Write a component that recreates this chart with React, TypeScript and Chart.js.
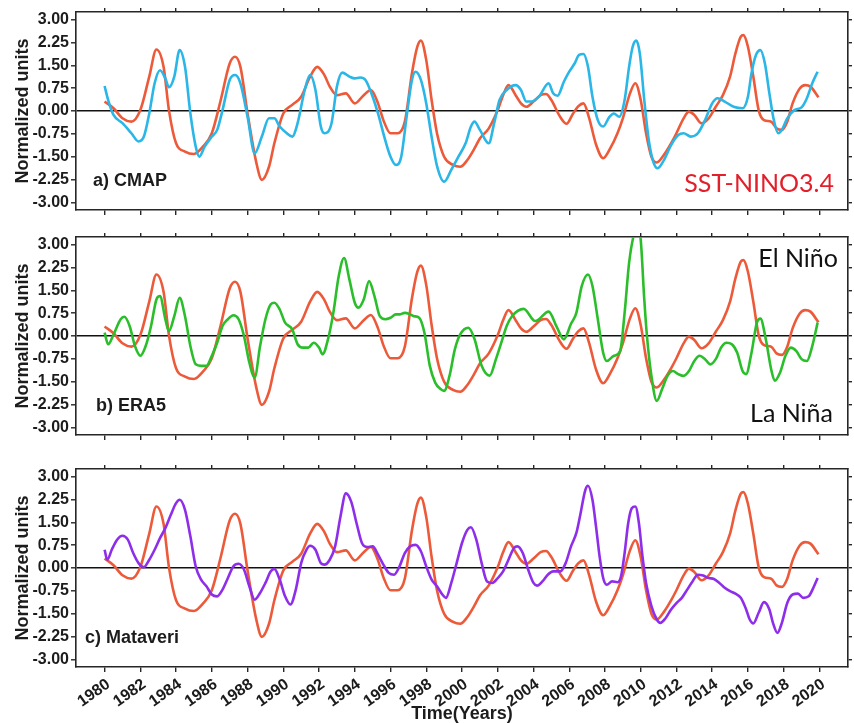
import React, { useEffect, useRef } from "react";
import { Chart, registerables } from "chart.js";

Chart.register(...registerables);

// ---------- tick labels ----------
const yearTicks = [1980, 1982, 1984, 1986, 1988, 1990, 1992, 1994, 1996, 1998, 2000, 2002, 2004, 2006, 2008, 2010, 2012, 2014, 2016, 2018, 2020];
const valueTicks = [-3, -2.25, -1.5, -0.75, 0, 0.75, 1.5, 2.25, 3];

// ---------- SST-NINO3.4 (red, same in every panel) ----------
const ninoYears = [1980.0, 1980.5, 1981.0, 1981.5, 1982.0, 1982.5, 1982.9, 1983.3, 1983.6, 1984.0, 1984.5, 1985.0, 1985.5, 1986.0, 1986.5, 1987.0, 1987.3, 1987.6, 1988.0, 1988.5, 1988.8, 1989.2, 1989.5, 1990.0, 1990.5, 1991.0, 1991.5, 1991.9, 1992.3, 1992.6, 1993.0, 1993.5, 1994.0, 1994.5, 1994.9, 1995.3, 1995.6, 1996.0, 1996.4, 1996.8, 1997.2, 1997.5, 1997.7, 1998.0, 1998.3, 1998.6, 1999.0, 1999.5, 1999.9, 2000.3, 2000.7, 2001.0, 2001.5, 2002.0, 2002.3, 2002.6, 2003.0, 2003.3, 2003.6, 2004.0, 2004.4, 2004.7, 2005.0, 2005.5, 2005.85, 2006.2, 2006.5, 2006.8, 2007.1, 2007.5, 2007.9, 2008.3, 2008.7, 2009.0, 2009.4, 2009.7, 2010.0, 2010.3, 2010.6, 2010.9, 2011.3, 2011.7, 2012.0, 2012.4, 2012.7, 2013.0, 2013.4, 2013.8, 2014.2, 2014.6, 2015.0, 2015.3, 2015.6, 2015.75, 2016.0, 2016.3, 2016.6, 2016.9, 2017.3, 2017.6, 2017.9, 2018.2, 2018.5, 2018.9, 2019.2, 2019.5, 2019.95];
const ninoValues = [0.31, 0.09, -0.24, -0.35, 0.03, 1.13, 2.02, 1.45, 0.03, -1.06, -1.33, -1.41, -1.17, -0.73, 0.36, 1.56, 1.78, 1.45, -0.08, -1.72, -2.26, -1.83, -1.06, -0.08, 0.2, 0.47, 1.13, 1.45, 1.18, 0.8, 0.52, 0.58, 0.25, 0.52, 0.69, 0.25, -0.3, -0.73, -0.73, -0.35, 1.24, 2.11, 2.31, 1.67, 0.36, -0.73, -1.5, -1.77, -1.83, -1.61, -1.23, -0.9, -0.57, 0.03, 0.52, 0.85, 0.52, 0.25, 0.14, 0.31, 0.52, 0.56, 0.36, -0.2, -0.42, -0.1, 0.15, 0.25, -0.2, -1.1, -1.55, -1.22, -0.73, -0.24, 0.58, 0.91, 0.36, -0.73, -1.5, -1.69, -1.44, -1.06, -0.73, -0.24, -0.02, -0.13, -0.4, -0.24, 0.14, 0.52, 1.13, 1.89, 2.44, 2.49, 2.11, 1.13, 0.03, -0.3, -0.35, -0.57, -0.62, -0.35, 0.25, 0.74, 0.85, 0.8, 0.45];

// ---------- a) CMAP (cyan) ----------
const cmapYears = [1980.0, 1980.2, 1980.5, 1981.0, 1981.5, 1981.9, 1982.2, 1982.5, 1982.8, 1983.1, 1983.4, 1983.6, 1983.9, 1984.2, 1984.5, 1984.8, 1985.1, 1985.3, 1985.6, 1986.0, 1986.3, 1986.6, 1987.0, 1987.3, 1987.6, 1988.0, 1988.4, 1988.8, 1989.2, 1989.5, 1989.8, 1990.2, 1990.5, 1990.8, 1991.2, 1991.5, 1991.8, 1992.1, 1992.3, 1992.7, 1993.0, 1993.3, 1993.7, 1994.0, 1994.3, 1994.6, 1995.0, 1995.3, 1995.7, 1996.0, 1996.3, 1996.6, 1996.9, 1997.2, 1997.4, 1997.7, 1998.0, 1998.3, 1998.6, 1999.0, 1999.4, 1999.8, 2000.2, 2000.5, 2000.7, 2001.0, 2001.5, 2001.8, 2002.1, 2002.5, 2003.0, 2003.3, 2003.6, 2003.9, 2004.3, 2004.85, 2005.1, 2005.35, 2005.7, 2006.0, 2006.3, 2006.55, 2006.8, 2007.05, 2007.3, 2007.6, 2007.9, 2008.25, 2008.5, 2008.8, 2009.1, 2009.35, 2009.55, 2009.75, 2009.95, 2010.2, 2010.45, 2010.7, 2010.95, 2011.3, 2011.7, 2012.1, 2012.4, 2012.8, 2013.2, 2013.6, 2014.0, 2014.3, 2014.7, 2015.2, 2015.7, 2016.0, 2016.2, 2016.45, 2016.7, 2016.95, 2017.2, 2017.45, 2017.7, 2017.9, 2018.2, 2018.6, 2019.0, 2019.3, 2019.6, 2019.9];
const cmapValues = [0.82, 0.36, -0.13, -0.4, -0.73, -1.0, -0.84, -0.08, 0.91, 1.34, 1.07, 0.78, 1.13, 2.0, 1.45, -0.08, -1.17, -1.5, -1.17, -0.84, -0.62, 0.03, 1.02, 1.18, 0.91, -0.19, -1.39, -0.84, -0.24, -0.24, -0.51, -0.73, -0.84, -0.4, 0.69, 1.18, 0.69, -0.51, -0.73, -0.4, 0.8, 1.26, 1.13, 1.07, 1.1, 1.02, 0.47, -0.08, -0.95, -1.5, -1.77, -1.5, -0.19, 1.02, 1.29, 1.02, 0.25, -0.85, -1.8, -2.32, -1.93, -1.5, -1.06, -0.51, -0.35, -0.62, -1.06, -0.4, 0.36, 0.69, 0.85, 0.69, 0.31, 0.31, 0.47, 0.91, 0.58, 0.5, 0.96, 1.29, 1.56, 1.84, 1.87, 1.45, 0.47, -0.3, -0.51, -0.19, -0.08, -0.19, 0.36, 1.45, 2.11, 2.31, 1.89, 0.36, -0.95, -1.66, -1.88, -1.61, -1.12, -0.79, -0.73, -0.84, -0.73, -0.3, 0.25, 0.42, 0.31, 0.14, 0.09, 0.47, 1.24, 1.84, 2.0, 1.56, 0.58, -0.3, -0.73, -0.62, -0.24, 0.03, 0.12, 0.42, 0.91, 1.29];

// ---------- b) ERA5 (green) ----------
const era5Years = [1980.0, 1980.2, 1980.5, 1980.9, 1981.1, 1981.4, 1981.7, 1982.0, 1982.3, 1982.6, 1982.9, 1983.1, 1983.4, 1983.6, 1983.9, 1984.2, 1984.5, 1984.8, 1985.1, 1985.4, 1985.7, 1986.0, 1986.3, 1986.6, 1986.9, 1987.2, 1987.5, 1987.8, 1988.1, 1988.4, 1988.7, 1989.0, 1989.3, 1989.5, 1989.8, 1990.1, 1990.5, 1990.8, 1991.1, 1991.4, 1991.7, 1992.0, 1992.2, 1992.5, 1992.8, 1993.1, 1993.4, 1993.7, 1994.0, 1994.2, 1994.5, 1994.8, 1995.1, 1995.4, 1995.7, 1996.0, 1996.3, 1996.5, 1996.8, 1997.1, 1997.3, 1997.6, 1997.9, 1998.2, 1998.5, 1998.8, 1999.0, 1999.3, 1999.6, 1999.9, 2000.35, 2000.7, 2001.1, 2001.55, 2001.9, 2002.2, 2002.5, 2002.8, 2003.45, 2004.1, 2004.85, 2005.3, 2005.7, 2006.1, 2006.4, 2006.7, 2007.05, 2007.3, 2007.6, 2007.9, 2008.1, 2008.5, 2008.85, 2009.1, 2009.35, 2009.6, 2009.8, 2010.0, 2010.2, 2010.35, 2010.6, 2010.9, 2011.2, 2011.5, 2011.8, 2012.1, 2012.4, 2012.7, 2013.0, 2013.3, 2013.6, 2013.9, 2014.2, 2014.5, 2014.8, 2015.1, 2015.4, 2015.7, 2015.9, 2016.2, 2016.5, 2016.7, 2017.0, 2017.3, 2017.5, 2017.8, 2018.1, 2018.4, 2018.7, 2019.0, 2019.3, 2019.6, 2019.9];
const era5Values = [0.11, -0.27, 0.05, 0.55, 0.63, 0.33, -0.33, -0.65, -0.33, 0.33, 1.2, 1.31, 0.55, 0.16, 0.65, 1.25, 0.65, -0.33, -0.93, -0.98, -0.98, -0.65, -0.22, 0.33, 0.55, 0.68, 0.55, 0.0, -0.87, -1.36, -0.33, 0.55, 1.04, 1.09, 0.87, 0.44, 0.22, -0.27, -0.38, -0.38, -0.22, -0.38, -0.6, -0.11, 0.76, 1.96, 2.56, 1.85, 1.09, 0.93, 1.2, 1.8, 1.31, 0.65, 0.55, 0.6, 0.71, 0.71, 0.76, 0.71, 0.65, 0.6, 0.1, -0.98, -1.53, -1.74, -1.8, -1.31, -0.44, 0.05, 0.27, -0.1, -0.98, -1.3, -0.76, -0.22, 0.33, 0.65, 0.89, 0.49, 0.8, 0.3, -0.11, 0.4, 0.76, 1.64, 2.02, 1.64, 0.55, -0.55, -0.82, -0.65, -0.49, 0.76, 2.4, 3.29, 3.6, 3.16, 1.2, 0.0, -1.31, -2.13, -1.74, -1.31, -1.15, -1.25, -1.31, -1.15, -0.82, -0.65, -0.76, -0.93, -0.76, -0.38, -0.22, -0.27, -0.55, -1.15, -1.25, -0.55, 0.44, 0.57, -0.11, -1.09, -1.47, -1.2, -0.65, -0.38, -0.49, -0.76, -0.82, -0.33, 0.44];

// ---------- c) Mataveri (purple) ----------
const mataveriYears = [1980.0, 1980.15, 1980.4, 1980.7, 1981.0, 1981.3, 1981.6, 1981.9, 1982.2, 1982.5, 1982.8, 1983.1, 1983.4, 1983.7, 1984.0, 1984.2, 1984.5, 1984.8, 1985.1, 1985.4, 1985.7, 1986.0, 1986.3, 1986.6, 1986.9, 1987.2, 1987.5, 1987.8, 1988.1, 1988.4, 1988.7, 1989.0, 1989.3, 1989.5, 1989.8, 1990.1, 1990.4, 1990.7, 1991.0, 1991.3, 1991.5, 1991.8, 1992.1, 1992.3, 1992.6, 1992.9, 1993.2, 1993.5, 1993.8, 1994.1, 1994.4, 1994.7, 1995.0, 1995.3, 1995.6, 1995.9, 1996.2, 1996.5, 1996.8, 1997.1, 1997.4, 1997.7, 1998.0, 1998.3, 1998.6, 1998.9, 1999.1, 1999.4, 1999.7, 2000.0, 2000.3, 2000.5, 2000.8, 2001.1, 2001.4, 2001.7, 2002.0, 2002.3, 2002.6, 2002.9, 2003.1, 2003.4, 2003.7, 2004.0, 2004.2, 2004.5, 2004.8, 2005.1, 2005.5, 2005.8, 2006.1, 2006.4, 2006.6, 2006.9, 2007.05, 2007.3, 2007.5, 2007.7, 2007.9, 2008.1, 2008.4, 2008.7, 2008.9, 2009.1, 2009.3, 2009.5, 2009.7, 2009.9, 2010.1, 2010.3, 2010.6, 2010.9, 2011.1, 2011.4, 2011.7, 2012.0, 2012.3, 2012.6, 2012.9, 2013.2, 2013.5, 2013.8, 2014.1, 2014.4, 2014.7, 2015.0, 2015.3, 2015.6, 2015.9, 2016.1, 2016.3, 2016.6, 2016.9, 2017.2, 2017.4, 2017.65, 2017.9, 2018.2, 2018.5, 2018.8, 2019.1, 2019.4, 2019.7, 2019.9];
const mataveriValues = [0.6, 0.27, 0.6, 0.93, 1.06, 0.93, 0.49, 0.16, 0.03, 0.27, 0.6, 0.98, 1.31, 1.74, 2.13, 2.24, 1.91, 1.04, 0.05, -0.38, -0.6, -0.87, -0.93, -0.71, -0.33, 0.05, 0.14, -0.05, -0.6, -1.04, -0.82, -0.49, -0.11, -0.03, -0.38, -0.93, -1.2, -0.71, 0.16, 0.6, 0.73, 0.6, 0.16, 0.11, 0.27, 0.71, 1.69, 2.45, 2.18, 1.47, 0.82, 0.69, 0.71, 0.44, 0.11, -0.16, -0.22, 0.05, 0.49, 0.71, 0.76, 0.55, 0.05, -0.38, -0.6, -0.87, -0.98, -0.49, 0.16, 0.82, 1.25, 1.34, 0.93, 0.16, -0.44, -0.49, -0.33, -0.11, 0.27, 0.65, 0.71, 0.49, -0.05, -0.49, -0.58, -0.44, -0.22, -0.11, -0.11, 0.16, 0.71, 1.15, 1.69, 2.56, 2.7, 2.24, 1.36, 0.38, -0.33, -0.55, -0.44, -0.47, -0.27, 0.49, 1.47, 1.96, 2.02, 1.47, 0.38, -0.49, -1.25, -1.69, -1.8, -1.64, -1.36, -1.15, -0.98, -0.71, -0.44, -0.22, -0.25, -0.33, -0.36, -0.49, -0.65, -0.76, -0.84, -0.98, -1.36, -1.69, -1.82, -1.47, -1.12, -1.36, -1.8, -2.13, -1.8, -1.15, -0.87, -0.84, -0.98, -0.93, -0.6, -0.33];

// ---------- styling ----------
const RED = "#EC5A3A";
const CYAN = "#2AB6E6";
const GREEN = "#2BBE2B";
const PURPLE = "#8E2EEA";
const AXIS = "#262626";
const TEXT = "#1c1c1c";
const SANS = "'Liberation Sans', Arial, sans-serif";
const X_MIN = 1978.4;
const X_MAX = 2021.6;
const Y_MIN = -3.25;
const Y_MAX = 3.25;

type TextItem = { text: string; x: number; y: number; font: string; color: string; align: CanvasTextAlign };

function points(xs: number[], ys: number[]) {
  return xs.map((x, i) => ({ x, y: ys[i] }));
}

function Panel(props: {
  top: number;
  height: number;
  years: number[];
  values: number[];
  color: string;
  showX: boolean;
  texts: TextItem[];
}) {
  const ref = useRef<HTMLCanvasElement | null>(null);
  useEffect(() => {
    if (!ref.current) return;
    const bottomH = props.height - 210;
    const setYearTicks = (s: any) => {
      s.ticks = yearTicks.map((v) => ({ value: v }));
    };
    const setValueTicks = (s: any) => {
      s.ticks = valueTicks.map((v) => ({ value: v }));
    };
    const textPlugin = {
      id: "panelTexts",
      afterDraw(chart: any) {
        const ctx = chart.ctx;
        props.texts.forEach((t) => {
          ctx.save();
          ctx.font = t.font;
          ctx.fillStyle = t.color;
          ctx.textAlign = t.align;
          ctx.textBaseline = "middle";
          ctx.fillText(t.text, t.x, t.y);
          ctx.restore();
        });
      },
    };
    const line = (data: any, color: string) => ({
      data,
      borderColor: color,
      borderWidth: 2.6,
      pointRadius: 0,
      fill: false,
      cubicInterpolationMode: "monotone",
    });
    const chart = new Chart(ref.current, {
      type: "line",
      data: {
        datasets: [
          line(points(props.years, props.values), props.color),
          line(points(ninoYears, ninoValues), RED),
        ] as any,
      },
      options: {
        animation: false,
        responsive: false,
        events: [],
        layout: { padding: 0 },
        plugins: { legend: { display: false }, tooltip: { enabled: false } },
        scales: {
          x: {
            type: "linear",
            axis: "x",
            position: "bottom",
            min: X_MIN,
            max: X_MAX,
            afterBuildTicks: setYearTicks,
            afterFit: (s: any) => {
              s.height = bottomH;
            },
            grid: { drawOnChartArea: false, drawTicks: true, tickLength: 5, tickColor: AXIS, lineWidth: 1.4 },
            border: { display: true, color: AXIS, width: 1.6 },
            ticks: {
              display: props.showX,
              autoSkip: false,
              minRotation: 35,
              maxRotation: 35,
              padding: 3,
              labelOffset: 4,
              color: TEXT,
              font: { family: SANS, size: 16, weight: "bold" },
              callback: (v: any) => String(v),
            },
            title: {
              display: props.showX,
              text: "Time(Years)",
              color: TEXT,
              font: { family: SANS, size: 18, weight: "bold", lineHeight: 1 },
              padding: { top: 0, bottom: 0 },
            },
          },
          xTop: {
            type: "linear",
            axis: "x",
            position: "top",
            min: X_MIN,
            max: X_MAX,
            afterBuildTicks: setYearTicks,
            afterFit: (s: any) => {
              s.height = 12;
            },
            grid: { drawOnChartArea: false, drawTicks: true, tickLength: 4, tickColor: AXIS, lineWidth: 1.4 },
            border: { display: true, color: AXIS, width: 1.6 },
            ticks: { display: false },
          },
          y: {
            type: "linear",
            axis: "y",
            position: "left",
            min: Y_MIN,
            max: Y_MAX,
            afterBuildTicks: setValueTicks,
            afterFit: (s: any) => {
              s.width = 76;
            },
            grid: {
              drawOnChartArea: true,
              drawTicks: true,
              tickLength: 5,
              tickColor: AXIS,
              tickWidth: 1.4,
              lineWidth: 1.6,
              color: (c: any) => (c.tick && c.tick.value === 0 ? "#111111" : "rgba(0,0,0,0)"),
            },
            border: { display: true, color: AXIS, width: 1.6 },
            ticks: {
              padding: 2,
              color: TEXT,
              font: { family: SANS, size: 16, weight: "bold" },
              callback: (v: any) => Number(v).toFixed(2),
            },
            title: {
              display: true,
              text: "Normalized units",
              color: TEXT,
              font: { family: SANS, size: 18, weight: "bold" },
              padding: { top: 12, bottom: 0 },
            },
          },
          yRight: {
            type: "linear",
            axis: "y",
            position: "right",
            min: Y_MIN,
            max: Y_MAX,
            afterBuildTicks: setValueTicks,
            afterFit: (s: any) => {
              s.width = 6;
            },
            grid: { drawOnChartArea: false, drawTicks: true, tickLength: 4, tickColor: AXIS, lineWidth: 1.4 },
            border: { display: true, color: AXIS, width: 1.6 },
            ticks: { display: false },
          },
        },
      } as any,
      plugins: [textPlugin],
    });
    return () => chart.destroy();
  }, []);
  return (
    <canvas
      ref={ref}
      width={854}
      height={props.height}
      style={{ position: "absolute", left: 0, top: props.top, width: 854, height: props.height, display: "block" }}
    />
  );
}

const BOLD18 = `bold 18px ${SANS}`;
const CAL = "25px Lato, 'Open Sans', sans-serif";

export default function App() {
  return (
    <div style={{ position: "fixed", left: 0, top: 0, width: 854, height: 723, background: "#ffffff", overflow: "hidden" }}>
      <Panel
        top={0}
        height={225}
        years={cmapYears}
        values={cmapValues}
        color={CYAN}
        showX={false}
        texts={[
          { text: "a) CMAP", x: 93, y: 181, font: BOLD18, color: TEXT, align: "left" },
          { text: "SST-NINO3.4", x: 834, y: 184, font: CAL, color: "#E2202B", align: "right" },
        ]}
      />
      <Panel
        top={225}
        height={225}
        years={era5Years}
        values={era5Values}
        color={GREEN}
        showX={false}
        texts={[
          { text: "b) ERA5", x: 96, y: 181, font: BOLD18, color: TEXT, align: "left" },
          { text: "El Niño", x: 838, y: 34, font: CAL, color: "#111111", align: "right" },
          { text: "La Niña", x: 833, y: 189, font: CAL, color: "#111111", align: "right" },
        ]}
      />
      <Panel
        top={457}
        height={266}
        years={mataveriYears}
        values={mataveriValues}
        color={PURPLE}
        showX={true}
        texts={[{ text: "c) Mataveri", x: 85, y: 181, font: BOLD18, color: TEXT, align: "left" }]}
      />
    </div>
  );
}
